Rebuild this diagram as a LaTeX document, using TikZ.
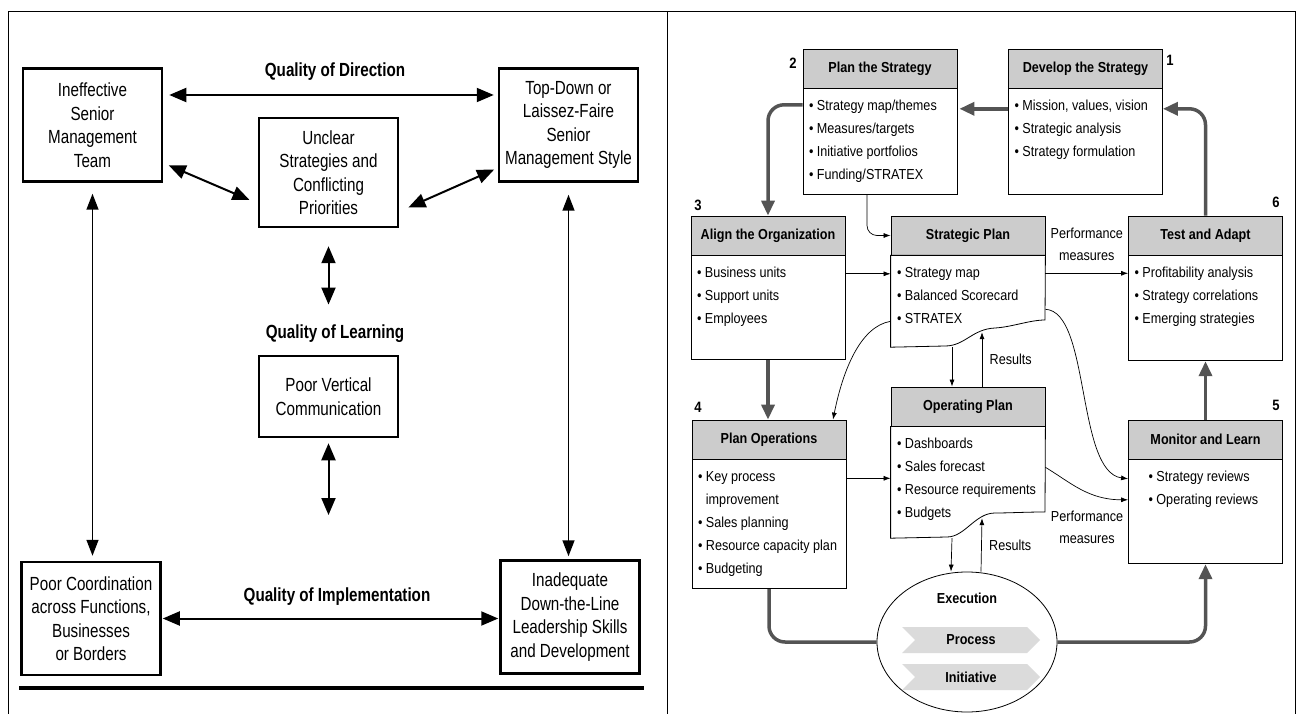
\documentclass[tikz,border=0pt]{standalone}
\usepackage{fontspec}
\setmainfont{Liberation Sans}[FakeStretch=0.87]
\newfontfamily\condfont[FakeStretch=0.8]{Liberation Sans}
\usetikzlibrary{positioning}
\usetikzlibrary{arrows.meta}
\usetikzlibrary{shapes.geometric}
\usetikzlibrary{shapes.symbols}

\definecolor{hdrgray}{gray}{0.80}
\definecolor{flowgray}{gray}{0.33}
\definecolor{bandgray}{gray}{0.86}

\newcommand{\blist}[2]{\begin{minipage}[c][#1][t]{142pt}\rule{0pt}{22pt}#2\end{minipage}}
\newcommand{\bul}{\textbullet\ }

\begin{document}
\begin{tikzpicture}[x=1pt,y=-1pt,
  cause/.style={draw,line width=2.5pt,minimum width=139pt,minimum height=113pt,
    align=center,inner sep=2pt,font=\condfont\fontsize{19}{23.5}\selectfont},
  qual/.style={font=\condfont\bfseries\fontsize{19}{22}\selectfont},
  twoway/.style={line width=2pt,>={Triangle[length=17pt,width=14pt]},<->},
  longway/.style={line width=1.5pt,>={Triangle[length=16pt,width=12pt]},<->},
  hdr/.style={draw,line width=0.8pt,fill=hdrgray,minimum width=154pt,minimum height=39pt,
    inner sep=0pt,font=\bfseries\fontsize{14.5}{16}\selectfont},
  body/.style={draw,line width=0.8pt,inner xsep=6pt,inner ysep=0pt,font=\fontsize{14.5}{23}\selectfont},
  num/.style={font=\bfseries\fontsize{15}{17}\selectfont},
  plain/.style={font=\fontsize{14.5}{22}\selectfont,align=center},
  band/.style={signal,signal to=east,signal from=west,fill=bandgray,minimum width=138pt,
    minimum height=26pt,inner sep=0pt,font=\bfseries\fontsize{14.5}{16}\selectfont},
  flowline/.style={draw=flowgray,line width=3.5pt,rounded corners=16pt},
  flow/.style={flowline,>={Triangle[length=15pt,width=13pt]},->},
  link/.style={line width=0.7pt,>={Latex[length=7pt,width=5pt]},->}]

  \useasboundingbox (0,0) rectangle (1299,714);

  % frame
  \draw[line width=1pt] (8,12) -- (1296,12);
  \draw[line width=1pt] (8,12) -- (8,714);
  \draw[line width=1pt] (667,12) -- (667,714);
  \draw[line width=1pt] (1295,12) -- (1295,714);

  % left panel
  \node[cause] (ineff)    at (92.5,125)  {Ineffective\\Senior\\Management\\Team};
  \node[cause] (topdown)  at (568.5,125) {Top-Down or\\Laissez-Faire\\Senior\\Management Style};
  \node[cause,minimum height=109pt] (unclear) at (328.5,172.5) {Unclear\\Strategies and\\Conflicting\\Priorities};
  \node[cause,minimum height=81pt]  (vertcomm) at (328.5,396.5) {Poor Vertical\\Communication};
  \node[cause] (coord)    at (91,618.5)  {Poor Coordination\\across Functions,\\Businesses\\or Borders};
  \node[cause] (leader)   at (570,617)   {Inadequate\\Down-the-Line\\Leadership Skills\\and Development};

  \node[qual] (qdir)   at (335,72)  {Quality of Direction};
  \node[qual] (qlearn) at (335,334) {Quality of Learning};
  \node[qual] (qimpl)  at (337,597) {Quality of Implementation};
  \coordinate (learnend) at (328.5,515);

  \draw[twoway,shorten <=6pt,shorten >=4pt] ([yshift=30pt]ineff.east) -- ([yshift=30pt]topdown.west);
  \draw[twoway,shorten <=6pt,shorten >=9pt] ([yshift=-38pt]ineff.east) -- ([yshift=-31pt]unclear.west);
  \draw[twoway,shorten <=4pt,shorten >=10pt] ([yshift=-43pt]topdown.west) -- ([yshift=-39pt]unclear.east);
  \draw[twoway,shorten <=18pt,shorten >=17pt] (unclear.south) -- (unclear.south |- qlearn.north);
  \draw[twoway,shorten <=5pt] (vertcomm.south) -- (learnend);
  \draw[longway,shorten <=11pt,shorten >=5pt] (ineff.south) -- (ineff.south |- coord.north);
  \draw[longway,shorten <=12pt,shorten >=3pt] (topdown.south) -- (topdown.south |- leader.north);
  \draw[twoway,shorten <=1pt,shorten >=1pt] (coord.east) -- (coord.east -| leader.west);
  \draw[line width=4pt] (19,688) -- (644,688);

  % right panel: stages
  \node[hdr] (dev) at (1085.5,68.5) {Develop the Strategy};
  \node[body,below=0pt of dev] (devbody)
    {\blist{106pt}{\bul Mission, values, vision\\\bul Strategic analysis\\\bul Strategy formulation}};
  \node[hdr] (plan) at (880,68.5) {Plan the Strategy};
  \node[body,below=0pt of plan] (planbody)
    {\blist{106pt}{\bul Strategy map/themes\\\bul Measures/targets\\\bul Initiative portfolios\\\bul Funding/STRATEX}};
  \node[hdr] (align) at (768,235.5) {Align the Organization};
  \node[body,below=0pt of align] (alignbody)
    {\blist{104pt}{\bul Business units\\\bul Support units\\\bul Employees}};
  \node[hdr] (strat) at (968,235.5) {Strategic Plan};
  \node[body,draw=none,below=0pt of strat] (stratbody)
    {\blist{91pt}{\bul Strategy map\\\bul Balanced Scorecard\\\bul STRATEX}};
  \node[hdr] (test) at (1205.5,235.5) {Test and Adapt};
  \node[body,below=0pt of test] (testbody)
    {\blist{105pt}{\bul Profitability analysis\\\bul Strategy correlations\\\bul Emerging strategies}};
  \node[hdr] (planops) at (769,439.5) {Plan Operations};
  \node[body,below=0pt of planops] (planopsbody)
    {\blist{129pt}{\bul Key process\\\phantom{\bul}improvement\\\bul Sales planning\\\bul Resource capacity plan\\\bul Budgeting}};
  \node[hdr] (operating) at (968,406.5) {Operating Plan};
  \node[body,draw=none,below=0pt of operating] (opbody)
    {\blist{111pt}{\bul Dashboards\\\bul Sales forecast\\\bul Resource requirements\\\bul Budgets}};
  \node[hdr] (monitor) at (1205.5,439.5) {Monitor and Learn};
  \node[body,below=0pt of monitor] (monbody)
    {\blist{104pt}{\leftskip=14pt\bul Strategy reviews\\\bul Operating reviews}};

  % wavy bottoms
  \draw[line width=0.8pt] (stratbody.north west) -- (stratbody.north east) -- (1045,320)
    .. controls (1030,320) and (1012,327) .. (995,328)
    .. controls (972,329) and (965,346) .. (945,346) -- (stratbody.south west) -- cycle;
  \draw[line width=0.8pt] (opbody.north west) -- (opbody.north east) -- (1045,512)
    .. controls (1025,512) and (1010,513) .. (995,513)
    .. controls (975,513) and (965,537) .. (947,537) -- (opbody.south west) -- cycle;

  \node[num] (n1) at (1170,60)  {1};
  \node[num] (n2) at (793,63)   {2};
  \node[num] (n3) at (698,205)  {3};
  \node[num] (n4) at (698,407)  {4};
  \node[num] (n5) at (1276,405) {5};
  \node[num] (n6) at (1276,202) {6};

  % execution
  \node[ellipse,draw,line width=0.8pt,minimum width=180pt,minimum height=140pt] (exec) at (967,642) {};
  \node[font=\bfseries\fontsize{14.5}{16}\selectfont] (exectitle) at (967,598) {Execution};
  \node[band] (process) at (971,640) {Process};
  \node[band] (initiative) at (971,677) {Initiative};

  % main cycle
  \draw[flow,shorten >=2pt] ([yshift=33pt]devbody.west) -- ([yshift=33pt]planbody.east);
  \draw[flow] ([yshift=37pt]planbody.west) -| (align.north);
  \draw[flow] (test.north) |- ([yshift=33pt]devbody.east);
  \draw[flow] (monitor.north) -- (testbody.south);
  \draw[flow] (alignbody.south) -- (alignbody.south |- planops.north);
  \draw[flowline] (planopsbody.south) |- (exec.west);
  \draw[flow] (exec.east) -| (monbody.south);

  % links
  \draw[link,rounded corners=10pt] ([xshift=-13pt]planbody.south) |- (strat.west);
  \draw[link] ([yshift=34pt]alignbody.east) -- ([yshift=34pt]alignbody.east -| stratbody.west);
  \draw[link] ([yshift=28pt]stratbody.east) -- ([yshift=28pt]stratbody.east -| testbody.west)
    node[plain,midway,above=9pt] {Performance\\measures};
  \draw[link] ([yshift=-20pt]stratbody.west) .. controls +(-30,5) and +(10,-50) .. ([xshift=64pt]planops.north);
  \draw[link] ([yshift=-8pt]stratbody.east) .. controls +(45,2) and +(-52,-7) .. ([yshift=33pt]monbody.west);
  \draw[link] ([yshift=15pt]opbody.east) .. controls +(25,15) and +(-40,0) .. ([yshift=12pt]monbody.west);
  \node[plain] (perf2) at (1087,527) {Performance\\measures};
  \draw[link] ([yshift=46pt]planopsbody.east) -- ([yshift=46pt]planopsbody.east -| opbody.west);
  \draw[link] ([xshift=-16pt]stratbody.south) -- ([xshift=-16pt]operating.north);
  \draw[link] ([xshift=14pt]operating.north) -- ([xshift=14pt,yshift=15pt]stratbody.south)
    node[plain,midway,right=4pt] {Results};
  \draw[link] ([xshift=-16pt]opbody.south) -- ([xshift=-16pt]exec.north);
  \draw[link] ([xshift=14pt]exec.north) -- ([xshift=14pt,yshift=20pt]opbody.south)
    node[plain,midway,right=4pt] {Results};
\end{tikzpicture}
\end{document}
